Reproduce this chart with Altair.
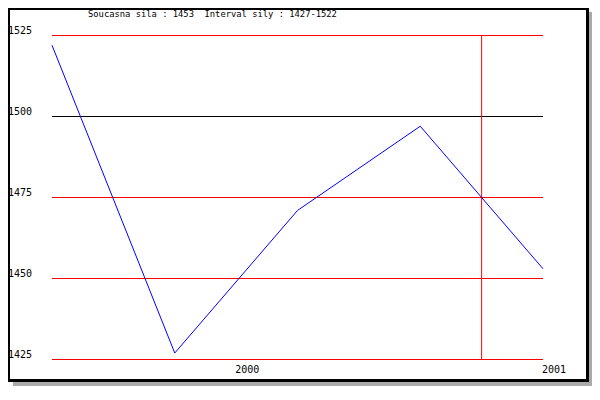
import altair as alt
import pandas as pd

# two spaces in the original title; the second is a no-break space so SVG keeps it
title_text = "Soucasna sila : 1453 \u00a0Interval sily : 1427-1522"
x_index = [0, 1, 2, 3, 4]
strength = [1522, 1427, 1471, 1497, 1453]
y_ticks = [1525, 1500, 1475, 1450, 1425]
x_tick_pos = [1.5, 4]
x_tick_labels = ["2000", "2001"]
marker_x = [3.5]
highlight_level = 1500

# frame (view) size; page origin of the view is (8, 8)
W, H = 581, 374
FONT = "DejaVu Sans Mono"
xscale = alt.Scale(domain=[0, 4], range=[44, 535], nice=False, zero=False)
yscale = alt.Scale(domain=[1425, 1525], range=[351.5, 27.5], nice=False, zero=False)

one = pd.DataFrame({"k": [0]})

shadow = alt.Chart(one).mark_rect(color="#aaaaaa").encode(
    x=alt.value(5), x2=alt.value(W + 3), y=alt.value(4), y2=alt.value(H + 4))
frame = alt.Chart(one).mark_rect(color="black").encode(
    x=alt.value(0), x2=alt.value(W), y=alt.value(0), y2=alt.value(H))
inner = alt.Chart(one).mark_rect(color="white").encode(
    x=alt.value(2), x2=alt.value(W - 3), y=alt.value(2), y2=alt.value(H - 3))

grid_df = pd.DataFrame({"level": y_ticks})
grid = alt.Chart(grid_df).mark_rule(strokeWidth=1).encode(
    x=alt.XDatum(0, type="quantitative", scale=xscale, axis=None),
    x2=alt.X2Datum(4),
    y=alt.Y("level:Q", scale=yscale, axis=None),
    color=alt.condition(f"datum.level == {highlight_level}", alt.value("black"), alt.value("#ff0000")),
)

vline_df = pd.DataFrame({"mx": marker_x})
vline = alt.Chart(vline_df).mark_rule(strokeWidth=1, color="#ff0000").encode(
    x=alt.X("mx:Q", scale=xscale, axis=None),
    y=alt.YDatum(1425, type="quantitative", scale=yscale, axis=None),
    y2=alt.Y2Datum(1525),
)

line_df = pd.DataFrame({"i": x_index, "v": strength})
line = alt.Chart(line_df).mark_line(color="#0000ff", strokeWidth=1).encode(
    x=alt.X("i:Q", scale=xscale, axis=None),
    y=alt.Y("v:Q", scale=yscale, axis=None),
)

ylab = alt.Chart(grid_df).mark_text(
    align="left", baseline="alphabetic", dy=-2, font=FONT, fontSize=10, color="black"
).encode(
    x=alt.value(0),
    y=alt.Y("level:Q", scale=yscale, axis=None),
    text=alt.Text("level:Q", format="d"),
)

xlab_df = pd.DataFrame({"pos": x_tick_pos, "lab": x_tick_labels})
xlab = alt.Chart(xlab_df).mark_text(
    align="left", baseline="alphabetic", dx=-1, font=FONT, fontSize=10, color="black"
).encode(
    x=alt.X("pos:Q", scale=xscale, axis=None),
    y=alt.value(365),
    text="lab:N",
)

title_df = pd.DataFrame({"t": [title_text]})
title = alt.Chart(title_df).mark_text(
    align="left", baseline="alphabetic", font=FONT, fontSize=8.8, color="black"
).encode(x=alt.value(80), y=alt.value(9), text="t:N")

chart = alt.layer(
    shadow, frame, inner, grid, vline, line, ylab, xlab, title
).properties(
    width=W, height=H,
    autosize=alt.AutoSizeParams(type="none"),
    padding={"left": 0, "top": 0, "right": 3, "bottom": 4},
).configure_view(stroke=None)

chart.save("out.html", embed_options={"renderer": "svg", "actions": False})
